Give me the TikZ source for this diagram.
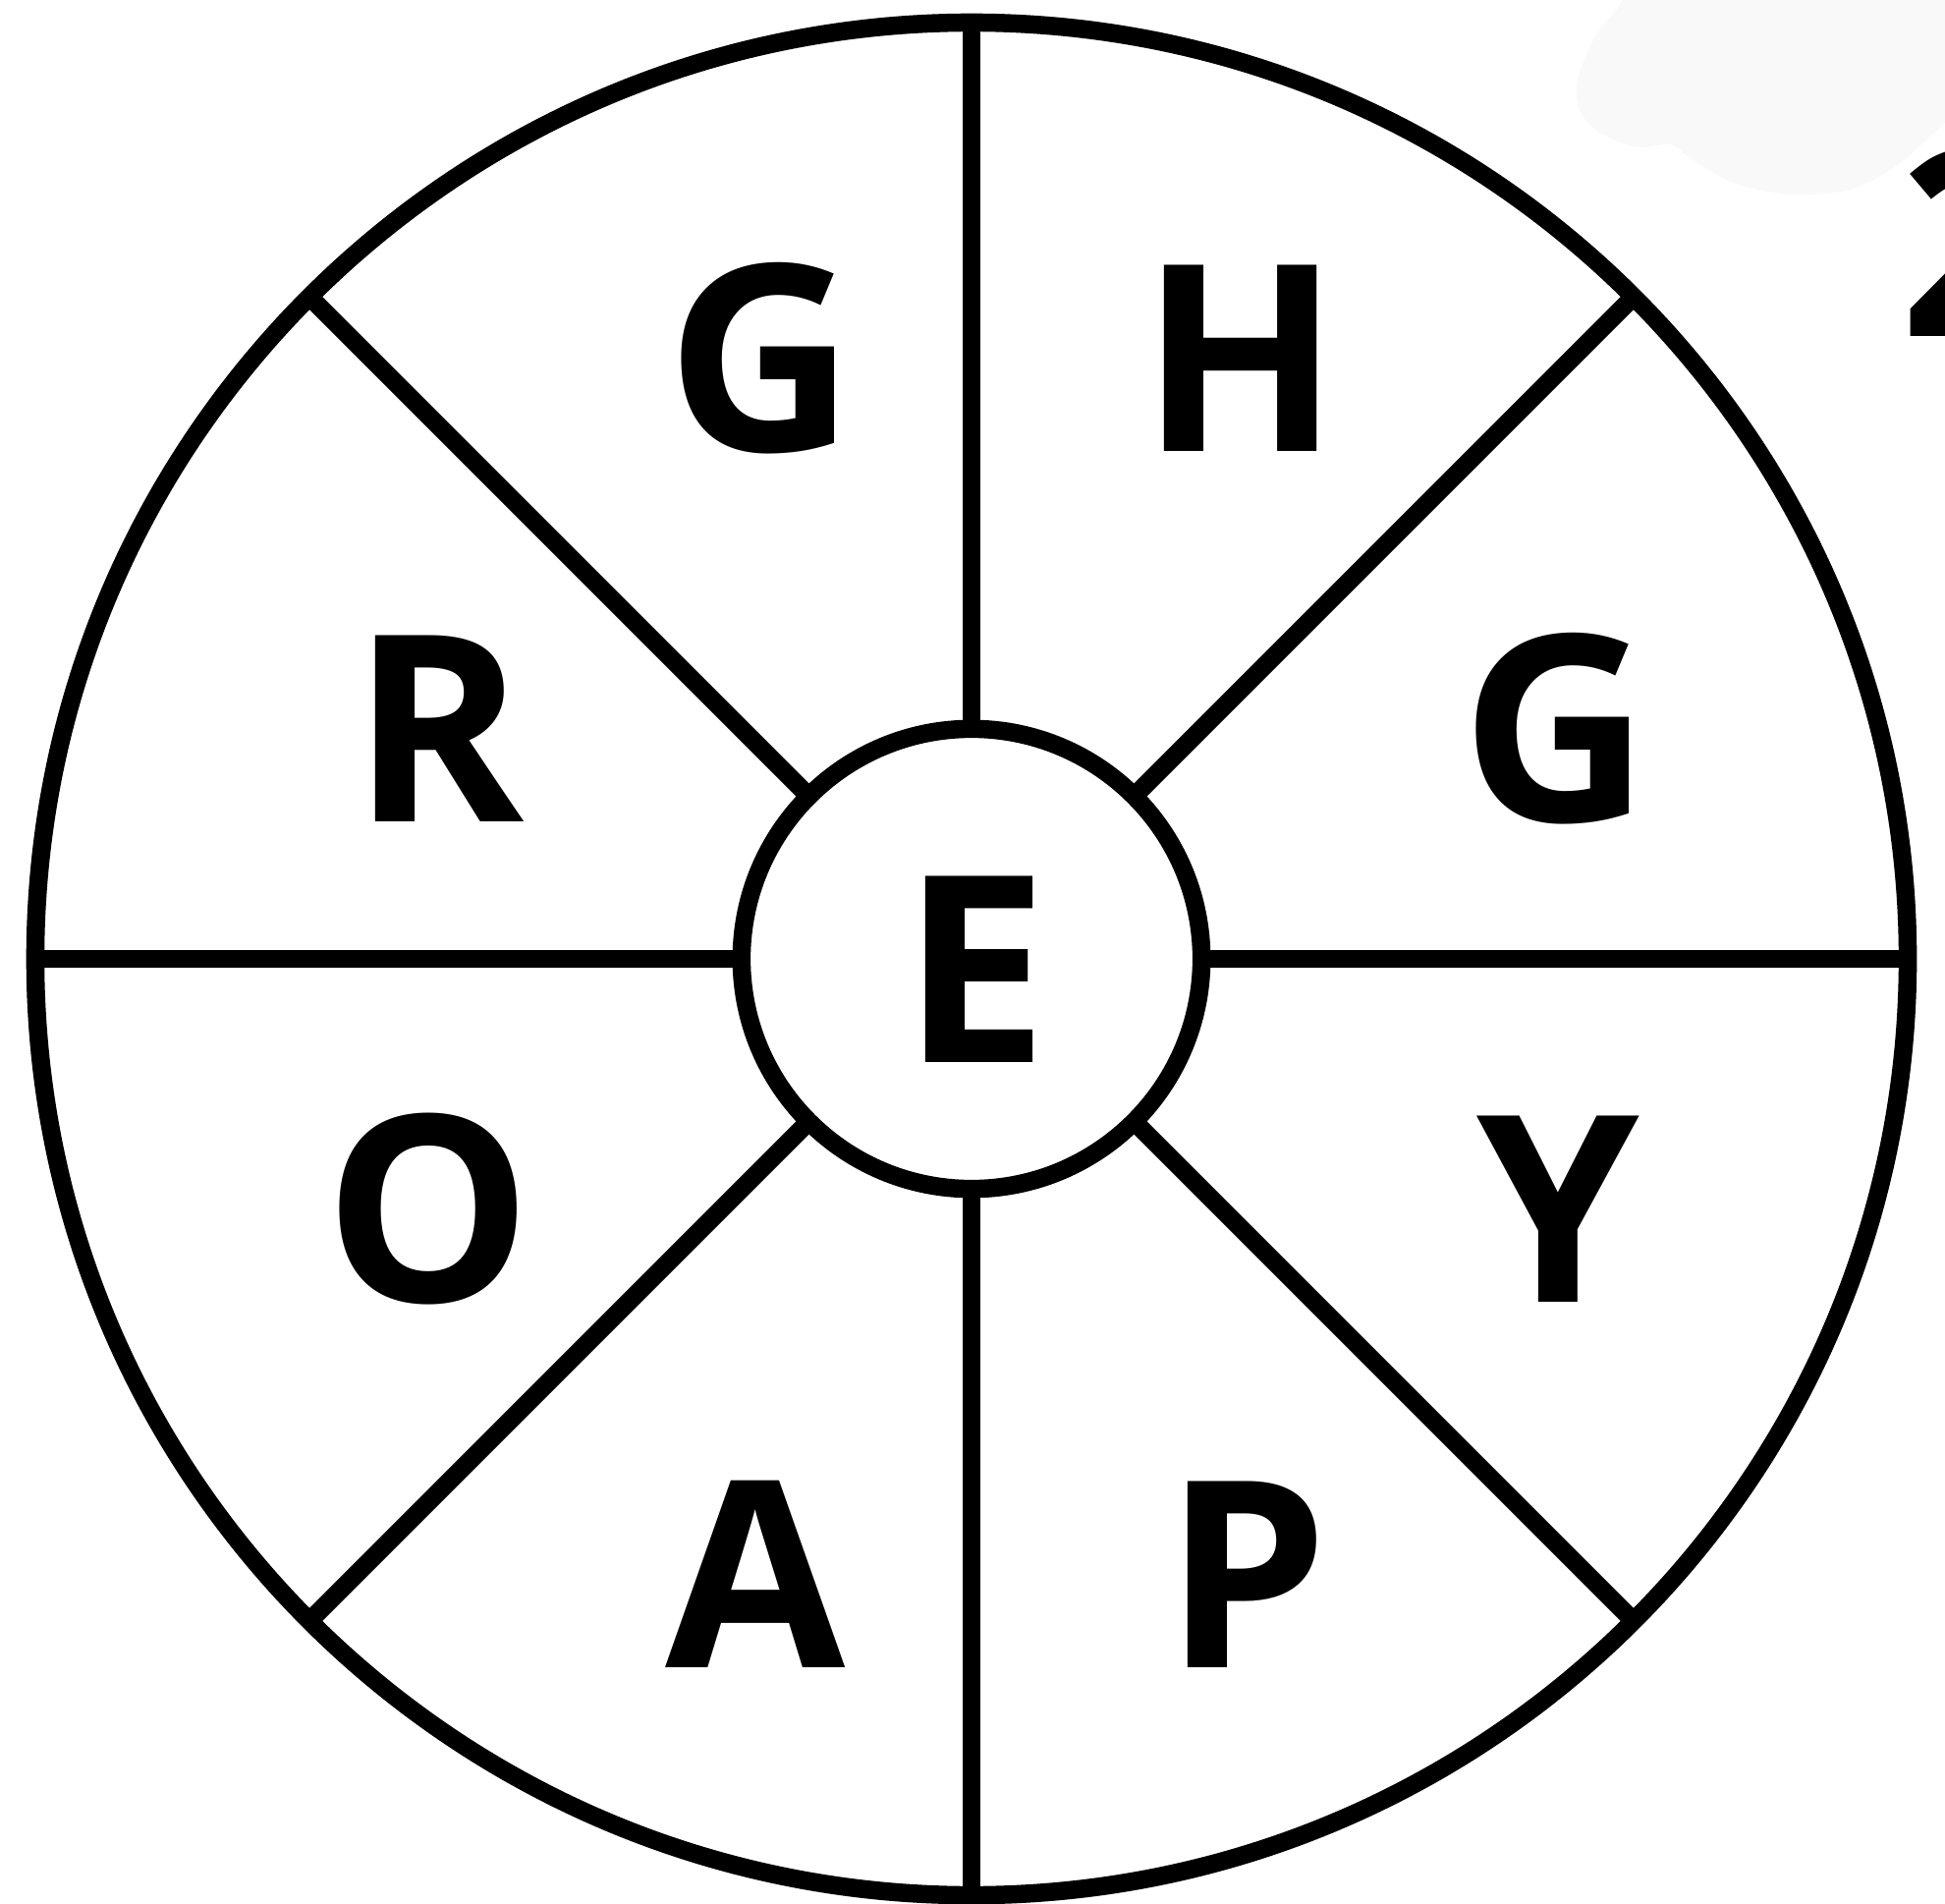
\documentclass[tikz,border=0pt]{standalone}
\usepackage{fontspec}
\setmainfont{Open Sans}
\begin{document}
\begin{tikzpicture}[x=0.01cm,y=-0.01cm,
  ring/.style={draw=black,line width=0.185cm},
  disc/.style={circle,ring,inner sep=0pt,outer sep=0pt},
  letter/.style={anchor=base,inner sep=0pt,font=\fontsize{75.5}{80}\selectfont\bfseries}]
\useasboundingbox (0,0) rectangle (1980,1937);
\fill[white] (0,0) rectangle (1980,1937);
% faint background blob
\fill[black!2.5] plot[smooth] coordinates {(1652,0) (1644,12) (1625,35) (1606,80) (1608,112) (1628,135) (1667,150) (1700,147) (1725,164) (1767,187) (1823,198) (1883,193) (1933,167) (1990,115)} -- (1990,0) -- cycle;
% partial digit at the right edge
\node[letter,anchor=base west] (two) at (1934,343) {2};
% wheel
\node[disc,minimum size=19.05cm] (outer) at (989,976) {};
\node[disc,minimum size=4.68cm,fill=white] (inner) at (989,976) {};
\foreach \a in {0,45,...,315}
  \draw[ring] (inner.\a) -- (outer.\a);
% letters
\node[letter] (g1) at (775,460) {G};
\node[letter] (h)  at (1263,460) {H};
\node[letter] (r)  at (446,836) {R};
\node[letter] (g2) at (1584,836) {G};
\node[letter] (e)  at (993,1081) {E};
\node[letter] (o)  at (436,1325) {O};
\node[letter] (y)  at (1586,1325) {Y};
\node[letter] (a)  at (769,1697) {A};
\node[letter] (p)  at (1269,1697) {P};
\end{tikzpicture}
\end{document}
